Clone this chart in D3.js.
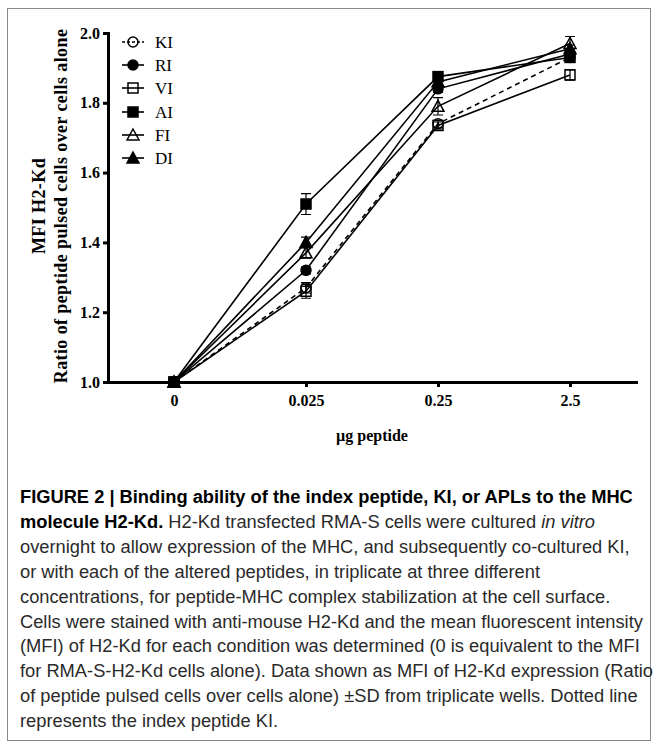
<!DOCTYPE html>
<html>
<head>
<meta charset="utf-8">
<script src="https://cdn.jsdelivr.net/npm/d3@7"></script>
<style>
  body { margin: 0; background: #fff; }
  svg { display: block; }
  .tick text { font-family: "Liberation Serif", serif; font-weight: bold; font-size: 16px; fill: #000; }
  .axis path, .axis line { stroke: #000; stroke-width: 3; }
  .caption { font-family: "Liberation Sans", Arial, sans-serif; font-size: 18.3px; fill: #2a2a2a; }
</style>
</head>
<body>
<svg width="657" height="744"></svg>
<script>
// doses on x axis (ug peptide)
var doses = ["0", "0.025", "0.25", "2.5"];
var yTicks = [1.0, 1.2, 1.4, 1.6, 1.8, 2.0];

// mean ratio and SD per peptide
var kiMean = [1.00, 1.27, 1.74, 1.93], kiSd = [0.005, 0.015, 0.01, 0.01];
var riMean = [1.00, 1.32, 1.84, 1.94], riSd = [0.005, 0.01, 0.01, 0.01];
var viMean = [1.00, 1.26, 1.735, 1.88], viSd = [0.005, 0.02, 0.01, 0.015];
var aiMean = [1.00, 1.51, 1.875, 1.93], aiSd = [0.005, 0.03, 0.01, 0.01];
var fiMean = [1.00, 1.37, 1.79, 1.97], fiSd = [0.005, 0.015, 0.025, 0.02];
var diMean = [1.00, 1.40, 1.86, 1.955], diSd = [0.005, 0.015, 0.01, 0.01];

var series = [
    { name: "KI", mean: kiMean, sd: kiSd, shape: "circle", filled: false, dashed: true },
    { name: "RI", mean: riMean, sd: riSd, shape: "circle", filled: true },
    { name: "VI", mean: viMean, sd: viSd, shape: "square", filled: false },
    { name: "AI", mean: aiMean, sd: aiSd, shape: "square", filled: true },
    { name: "FI", mean: fiMean, sd: fiSd, shape: "triangle", filled: false },
    { name: "DI", mean: diMean, sd: diSd, shape: "triangle", filled: true }
];

var svg = d3.select("svg");

// frame round the figure
svg.append("rect")
    .attr("x", 7.5).attr("y", 8.5)
    .attr("width", 643).attr("height", 732)
    .attr("fill", "none").attr("stroke", "#8a8a8a").attr("stroke-width", 1);

var plotLeft = 108, plotRight = 636, plotTop = 33, plotBottom = 382;

var x = d3.scalePoint().domain(doses).range([plotLeft, plotRight]).padding(0.5);
var y = d3.scaleLinear().domain([1, 2]).range([plotBottom, plotTop]);

svg.append("g")
    .attr("class", "axis")
    .attr("transform", "translate(0," + plotBottom + ")")
    .call(d3.axisBottom(x).tickSizeInner(5).tickSizeOuter(0).tickPadding(8));

svg.append("g")
    .attr("class", "axis")
    .attr("transform", "translate(" + plotLeft + ",0)")
    .call(d3.axisLeft(y).tickValues(yTicks).tickFormat(d3.format(".1f"))
        .tickSizeInner(5).tickSizeOuter(0).tickPadding(3));

svg.selectAll(".axis path").attr("stroke-linecap", "square");

// axis titles
svg.append("text")
    .attr("x", (plotLeft + plotRight) / 2).attr("y", 441)
    .attr("text-anchor", "middle")
    .style("font-family", "Liberation Serif, serif").style("font-weight", "bold").style("font-size", "16px")
    .text("\u00b5g peptide");

var yMid = 206;
svg.append("text")
    .attr("transform", "translate(45," + yMid + ") rotate(-90)")
    .attr("text-anchor", "middle")
    .style("font-family", "Liberation Serif, serif").style("font-weight", "bold").style("font-size", "18px")
    .style("letter-spacing", "0.4px")
    .text("MFI H2-Kd");
svg.append("text")
    .attr("transform", "translate(67," + yMid + ") rotate(-90)")
    .attr("text-anchor", "middle")
    .style("font-family", "Liberation Serif, serif").style("font-weight", "bold").style("font-size", "18px")
    .style("letter-spacing", "0.4px")
    .text("Ratio of peptide pulsed cells over cells alone");

function marker(sel, s) {
    var fill = s.filled ? "#000" : "none";
    if (s.shape === "circle") {
        sel.append("circle").attr("r", 5).attr("fill", fill).attr("stroke", "#000").attr("stroke-width", 1.5);
    } else if (s.shape === "square") {
        sel.append("rect").attr("x", -5).attr("y", -5).attr("width", 10).attr("height", 10)
            .attr("fill", fill).attr("stroke", "#000").attr("stroke-width", 1.5);
    } else {
        sel.append("path").attr("d", "M0,-6L6,5L-6,5Z")
            .attr("fill", fill).attr("stroke", "#000").attr("stroke-width", 1.5);
    }
}

var line = d3.line()
    .x(function (d, i) { return x(doses[i]); })
    .y(function (d) { return y(d); });

// lines first, then bars and markers
series.forEach(function (s) {
    svg.append("path")
        .datum(s.mean)
        .attr("d", line)
        .attr("fill", "none")
        .attr("stroke", "#000")
        .attr("stroke-width", 1.6)
        .attr("stroke-dasharray", s.dashed ? "5,4" : null);
});

series.forEach(function (s) {
    var g = svg.append("g");
    s.mean.forEach(function (m, i) {
        var cx = x(doses[i]);
        var y0 = y(m - s.sd[i]), y1 = y(m + s.sd[i]);
        g.append("path")
            .attr("d", "M" + cx + "," + y0 + "V" + y1 + "M" + (cx - 5) + "," + y1 + "H" + (cx + 5) +
                "M" + (cx - 5) + "," + y0 + "H" + (cx + 5))
            .attr("stroke", "#000").attr("stroke-width", 1.2).attr("fill", "none");
        marker(g.append("g").attr("transform", "translate(" + cx + "," + y(m) + ")"), s);
    });
});

// legend
var legendY = [42, 65, 88, 112, 135, 158];
series.forEach(function (s, i) {
    var lg = svg.append("g").attr("transform", "translate(133," + legendY[i] + ")");
    lg.append("line").attr("x1", -11).attr("x2", 11)
        .attr("stroke", "#000").attr("stroke-width", 1.6)
        .attr("stroke-dasharray", s.dashed ? "3,2" : null);
    marker(lg, s);
    lg.append("text").attr("x", 22).attr("dy", "0.35em")
        .style("font-family", "Liberation Serif, serif").style("font-size", "17px")
        .text(s.name);
});

// caption
var caption = [
    [["FIGURE 2 | Binding ability of the index peptide, KI, or APLs to the MHC", "b"]],
    [["molecule H2-Kd.", "b"], [" H2-Kd transfected RMA-S cells were cultured ", ""], ["in vitro", "i"]],
    [["overnight to allow expression of the MHC, and subsequently co-cultured KI,", ""]],
    [["or with each of the altered peptides, in triplicate at three different", ""]],
    [["concentrations, for peptide-MHC complex stabilization at the cell surface.", ""]],
    [["Cells were stained with anti-mouse H2-Kd and the mean fluorescent intensity", ""]],
    [["(MFI) of H2-Kd for each condition was determined (0 is equivalent to the MFI", ""]],
    [["for RMA-S-H2-Kd cells alone). Data shown as MFI of H2-Kd expression (Ratio", ""]],
    [["of peptide pulsed cells over cells alone) \u00b1SD from triplicate wells. Dotted line", ""]],
    [["represents the index peptide KI.", ""]]
];
caption.forEach(function (parts, i) {
    var t = svg.append("text").attr("class", "caption").attr("x", 20).attr("y", 503 + i * 24.9);
    parts.forEach(function (p) {
        t.append("tspan")
            .style("font-weight", p[1] === "b" ? "bold" : null)
            .style("font-style", p[1] === "i" ? "italic" : null)
            .style("fill", p[1] === "b" ? "#000" : null)
            .text(p[0]);
    });
});
</script>
</body>
</html>
